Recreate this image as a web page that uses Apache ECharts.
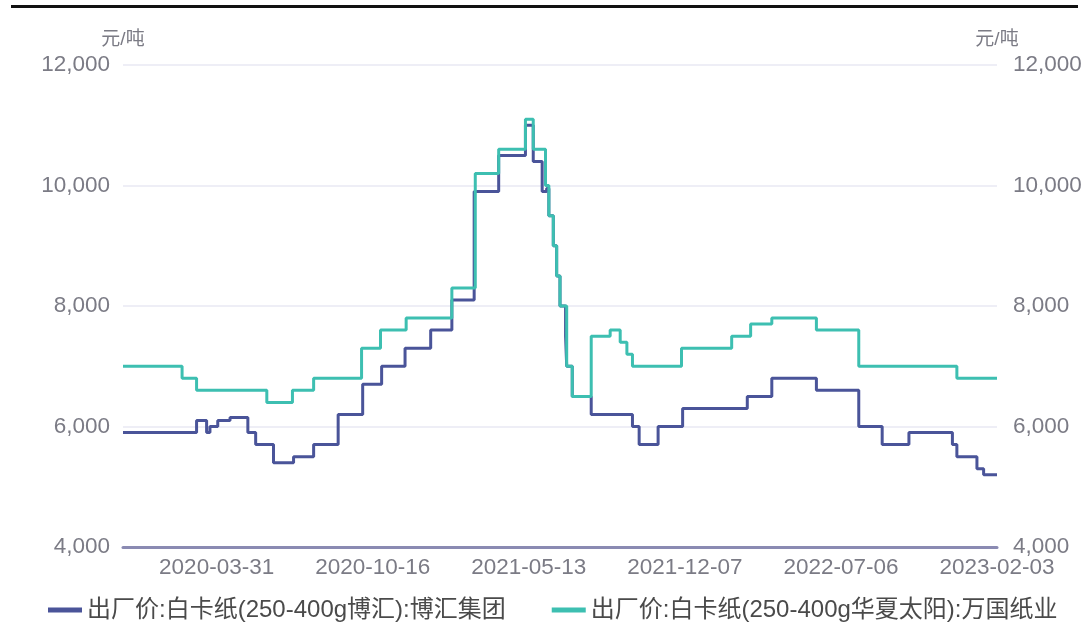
<!DOCTYPE html>
<html>
<head>
<meta charset="utf-8">
<script src="https://cdn.jsdelivr.net/npm/echarts@6/dist/echarts.min.js"></script>
<style>
html,body{margin:0;padding:0;background:#fff;}
#c{width:1089px;height:637px;}
</style>
</head>
<body>
<div id="c"></div>
<script>
// x = trading-day index from the start of the series
var tickPos = [84, 224, 364, 504, 644, 784];
var tickLabels = ['2020-03-31', '2020-10-16', '2021-05-13', '2021-12-07', '2022-07-06', '2023-02-03'];
var lastIndex = 784;

var seriesNames = ['出厂价:白卡纸(250-400g博汇):博汇集团', '出厂价:白卡纸(250-400g华夏太阳):万国纸业'];

// change points [index, price]; each price holds until the next point
var bohuiIdx = [0, 66, 75, 78, 85, 96, 112, 119, 135, 153, 171, 193, 215, 232, 253, 276, 295, 315, 337, 361, 368, 376, 380, 382, 386, 389, 392, 397, 398, 403, 420, 457, 463, 480, 502, 560, 582, 622, 660, 681, 705, 744, 748, 766, 772, 784];
var bohuiVal = [5900, 6100, 5900, 6000, 6100, 6150, 5900, 5700, 5400, 5500, 5700, 6200, 6700, 7000, 7300, 7600, 8100, 9900, 10500, 11000, 10400, 9900, 9950, 9500, 9000, 8500, 8000, 7500, 7000, 6500, 6200, 6000, 5700, 6000, 6300, 6500, 6800, 6600, 6000, 5700, 5900, 5700, 5500, 5300, 5200, 5200];

var wanguoIdx = [0, 53, 66, 129, 152, 171, 214, 231, 254, 295, 316, 337, 361, 368, 379, 382, 386, 389, 392, 398, 403, 420, 437, 446, 452, 457, 501, 546, 563, 582, 622, 660, 748, 784];
var wanguoVal = [7000, 6800, 6600, 6400, 6600, 6800, 7300, 7600, 7800, 8300, 10200, 10600, 11100, 10600, 10000, 9500, 9000, 8500, 8000, 7000, 6500, 7500, 7600, 7400, 7200, 7000, 7300, 7500, 7700, 7800, 7600, 7000, 6800, 6800];

function pairs(xs, ys) { return xs.map(function (x, i) { return [x, ys[i]]; }); }

var font = 'Arial, "Liberation Sans", "Noto Sans CJK SC", sans-serif';
var labelColor = '#7b7b85';

var chart = echarts.init(document.getElementById('c'));
chart.setOption({
  animation: false,
  textStyle: { fontFamily: font },
  grid: { left: 123, right: 92, top: 65, bottom: 90 },
  graphic: [{
    type: 'rect', left: 11, top: 5,
    shape: { width: 1067, height: 3 },
    style: { fill: '#111' }
  }],
  legend: {
    left: 43, top: 593, itemGap: 46, itemWidth: 34, itemHeight: 5, icon: 'rect',
    textStyle: { fontSize: 24, color: '#4a4a4a', fontFamily: font }
  },
  xAxis: {
    type: 'value', min: 0, max: lastIndex,
    axisLine: { show: true, lineStyle: { color: '#8a8ab2', width: 3 } },
    axisTick: { show: false },
    splitLine: { show: false },
    axisLabel: {
      customValues: tickPos,
      margin: 10, fontSize: 22.5, color: labelColor,
      formatter: function (v) {
        var k = tickPos.indexOf(Math.round(v));
        return k >= 0 ? tickLabels[k] : '';
      }
    }
  },
  yAxis: [{
    type: 'value', min: 4000, max: 12000, interval: 2000,
    name: '元/吨', nameGap: 16,
    nameTextStyle: { fontSize: 19, color: labelColor, align: 'center' },
    axisLine: { show: false }, axisTick: { show: false },
    splitLine: { lineStyle: { color: '#e8e8f3', width: 1.5 } },
    axisLabel: { fontSize: 22.5, color: labelColor, margin: 13,
      formatter: function (v) { return v.toLocaleString('en-US'); } }
  }, {
    type: 'value', min: 4000, max: 12000, interval: 2000,
    name: '元/吨', nameGap: 16,
    nameTextStyle: { fontSize: 19, color: labelColor, align: 'center' },
    axisLine: { show: false }, axisTick: { show: false },
    splitLine: { show: false },
    axisLabel: { fontSize: 22.5, color: labelColor, margin: 16,
      formatter: function (v) { return v.toLocaleString('en-US'); } }
  }],
  series: [{
    name: seriesNames[0], type: 'line', step: 'end', showSymbol: false,
    data: pairs(bohuiIdx, bohuiVal),
    lineStyle: { width: 3, color: '#4a5499' }, itemStyle: { color: '#4a5499' }
  }, {
    name: seriesNames[1], type: 'line', step: 'end', showSymbol: false,
    data: pairs(wanguoIdx, wanguoVal),
    lineStyle: { width: 3, color: '#3dbfb1' }, itemStyle: { color: '#3dbfb1' }
  }]
});
</script>
</body>
</html>
